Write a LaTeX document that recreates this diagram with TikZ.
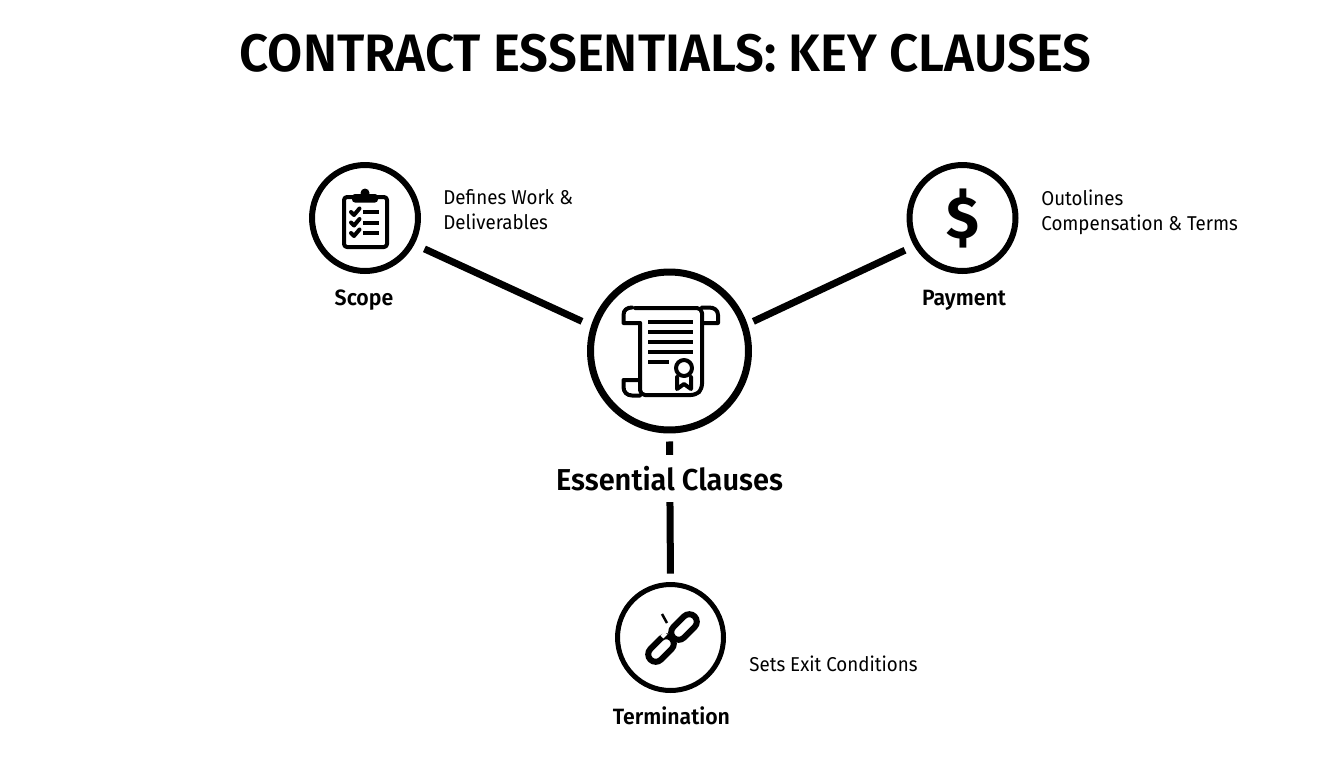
\documentclass[tikz,border=0pt]{standalone}
\usepackage{fontspec}
\setmainfont{Fira Sans}
\newfontface\narrowfont{Fira Sans}[FakeStretch=0.935]
\newfontface\narrowbold{Fira Sans SemiBold}[FakeStretch=0.96]
\newfontface\titlefont{Fira Sans SemiBold}[FakeStretch=0.968]
\tikzset{
    hub/.style={draw, circle, line width=0.12cm, minimum size=2.12cm, inner sep=0pt},
    link/.style={line width=0.14cm},
    icon/.style={line width=0.08cm, line join=round, line cap=round},
    chain/.style={line width=0.12cm, rounded corners=0.15cm},
    caption/.style={font=\narrowbold\fontsize{12.6}{15}\selectfont},
    note/.style={anchor=west, align=left, inner sep=0pt, font=\narrowfont\fontsize{11.4}{14.2}\selectfont},
}
\begin{document}
\begin{tikzpicture}[x=0.02cm, y=-0.02cm]
    \useasboundingbox (0,0) rectangle (1344,768);

    % Nodes for the title and the circles
    \node at (665.5,53) (title) {\titlefont\fontsize{30}{36}\selectfont CONTRACT ESSENTIALS: KEY CLAUSES};
    \node at (669.5,351) (central) [hub, line width=0.14cm, minimum size=3.16cm] {};
    \node at (365,218) (scope) [hub] {};
    \node at (962.5,218) (payment) [hub] {};
    \node at (670.5,637.5) (termination) [hub, line width=0.1cm] {};

    % Nodes for the captions and notes
    \node at (364,300) (scopelabel) [caption] {Scope};
    \node at (964,300) (paymentlabel) [caption] {Payment};
    \node at (671.5,716) (terminationlabel) [caption] {Termination};
    \node at (443,209.5) (scopenote) [note] {Defines Work \&\\Deliverables};
    \node at (1041,212) (paymentnote) [note] {Outolines\\Compensation \& Terms};
    \node at (749,664) (terminationnote) [note] {Sets Exit Conditions};

    % Connectors
    \draw[link, shorten <=0.22cm, shorten >=0.2cm] (scope.-28) -- (central.162);
    \draw[link, shorten <=0.2cm, shorten >=0.13cm] (payment.-150) -- (central.19);
    \draw[link, shorten <=0.16cm, shorten >=0.17cm] (central.south) -- (termination.north);

    % Label over the lower connector
    \node at (669.5,478.5) (centrallabel) [fill=white, minimum width=4.6cm, minimum height=0.94cm, inner sep=0pt, font=\narrowbold\fontsize{17.2}{20}\selectfont] {Essential Clauses};

    % Scroll icon
    \draw[icon, rounded corners=0.1cm] (640,323) -- (640,395) -- (696,395) -- (702,389) -- (702,308) -- (635,308);
    \draw[icon] (640,323) -- (623.5,323) -- (623.5,315) .. controls (623.5,310) and (627,307.5) .. (632,307.5);
    \draw[icon] (702,323) -- (718,323) -- (718,315) .. controls (718,310) and (714,307.5) .. (709,307.5) -- (702,307.5);
    \draw[icon] (640,380) -- (623.5,380) -- (623.5,387) .. controls (623.5,392) and (627,395.5) .. (632,395.5) -- (640,395.5);
    \foreach \y in {322,332,342,352}
        \draw[line width=0.09cm] (648,\y) -- (693,\y);
    \draw[line width=0.09cm] (648,362) -- (669,362);
    \draw[icon] (684,368) circle (8);
    \draw[icon] (677,377) -- (677,389) -- (684,384) -- (691,389) -- (691,377);

    % Clipboard icon
    \draw[icon, rounded corners=0.06cm] (353,197) -- (344,197) -- (344,247) -- (387,247) -- (387,197) -- (377,197);
    \fill[rounded corners=0.06cm] (352,202.5) rectangle (378,194);
    \fill (365,193) circle (4.5);
    \foreach \y in {212,222.5,233} {
        \draw[icon] (351,\y) -- (354,\y+3) -- (359.5,\y-3.5);
        \draw[line width=0.08cm] (363,\y) -- (379,\y);
    }

    % Chain icon
    \draw[chain, rotate around={45:(684,627)}] (669,619.5) rectangle (699,634.5);
    \draw[chain, rotate around={45:(661,649)}] (646,641.5) rectangle (676,656.5);
    \draw[white, line width=0.08cm] (662,637) -- (666,633);
    \draw[line width=0.05cm] (662,614) -- (667,623);

    % Dollar sign
    \node at (962.5,219) (dollar) [inner sep=0pt, font=\fontsize{34}{40}\selectfont\bfseries] {\$};
\end{tikzpicture}
\end{document}
